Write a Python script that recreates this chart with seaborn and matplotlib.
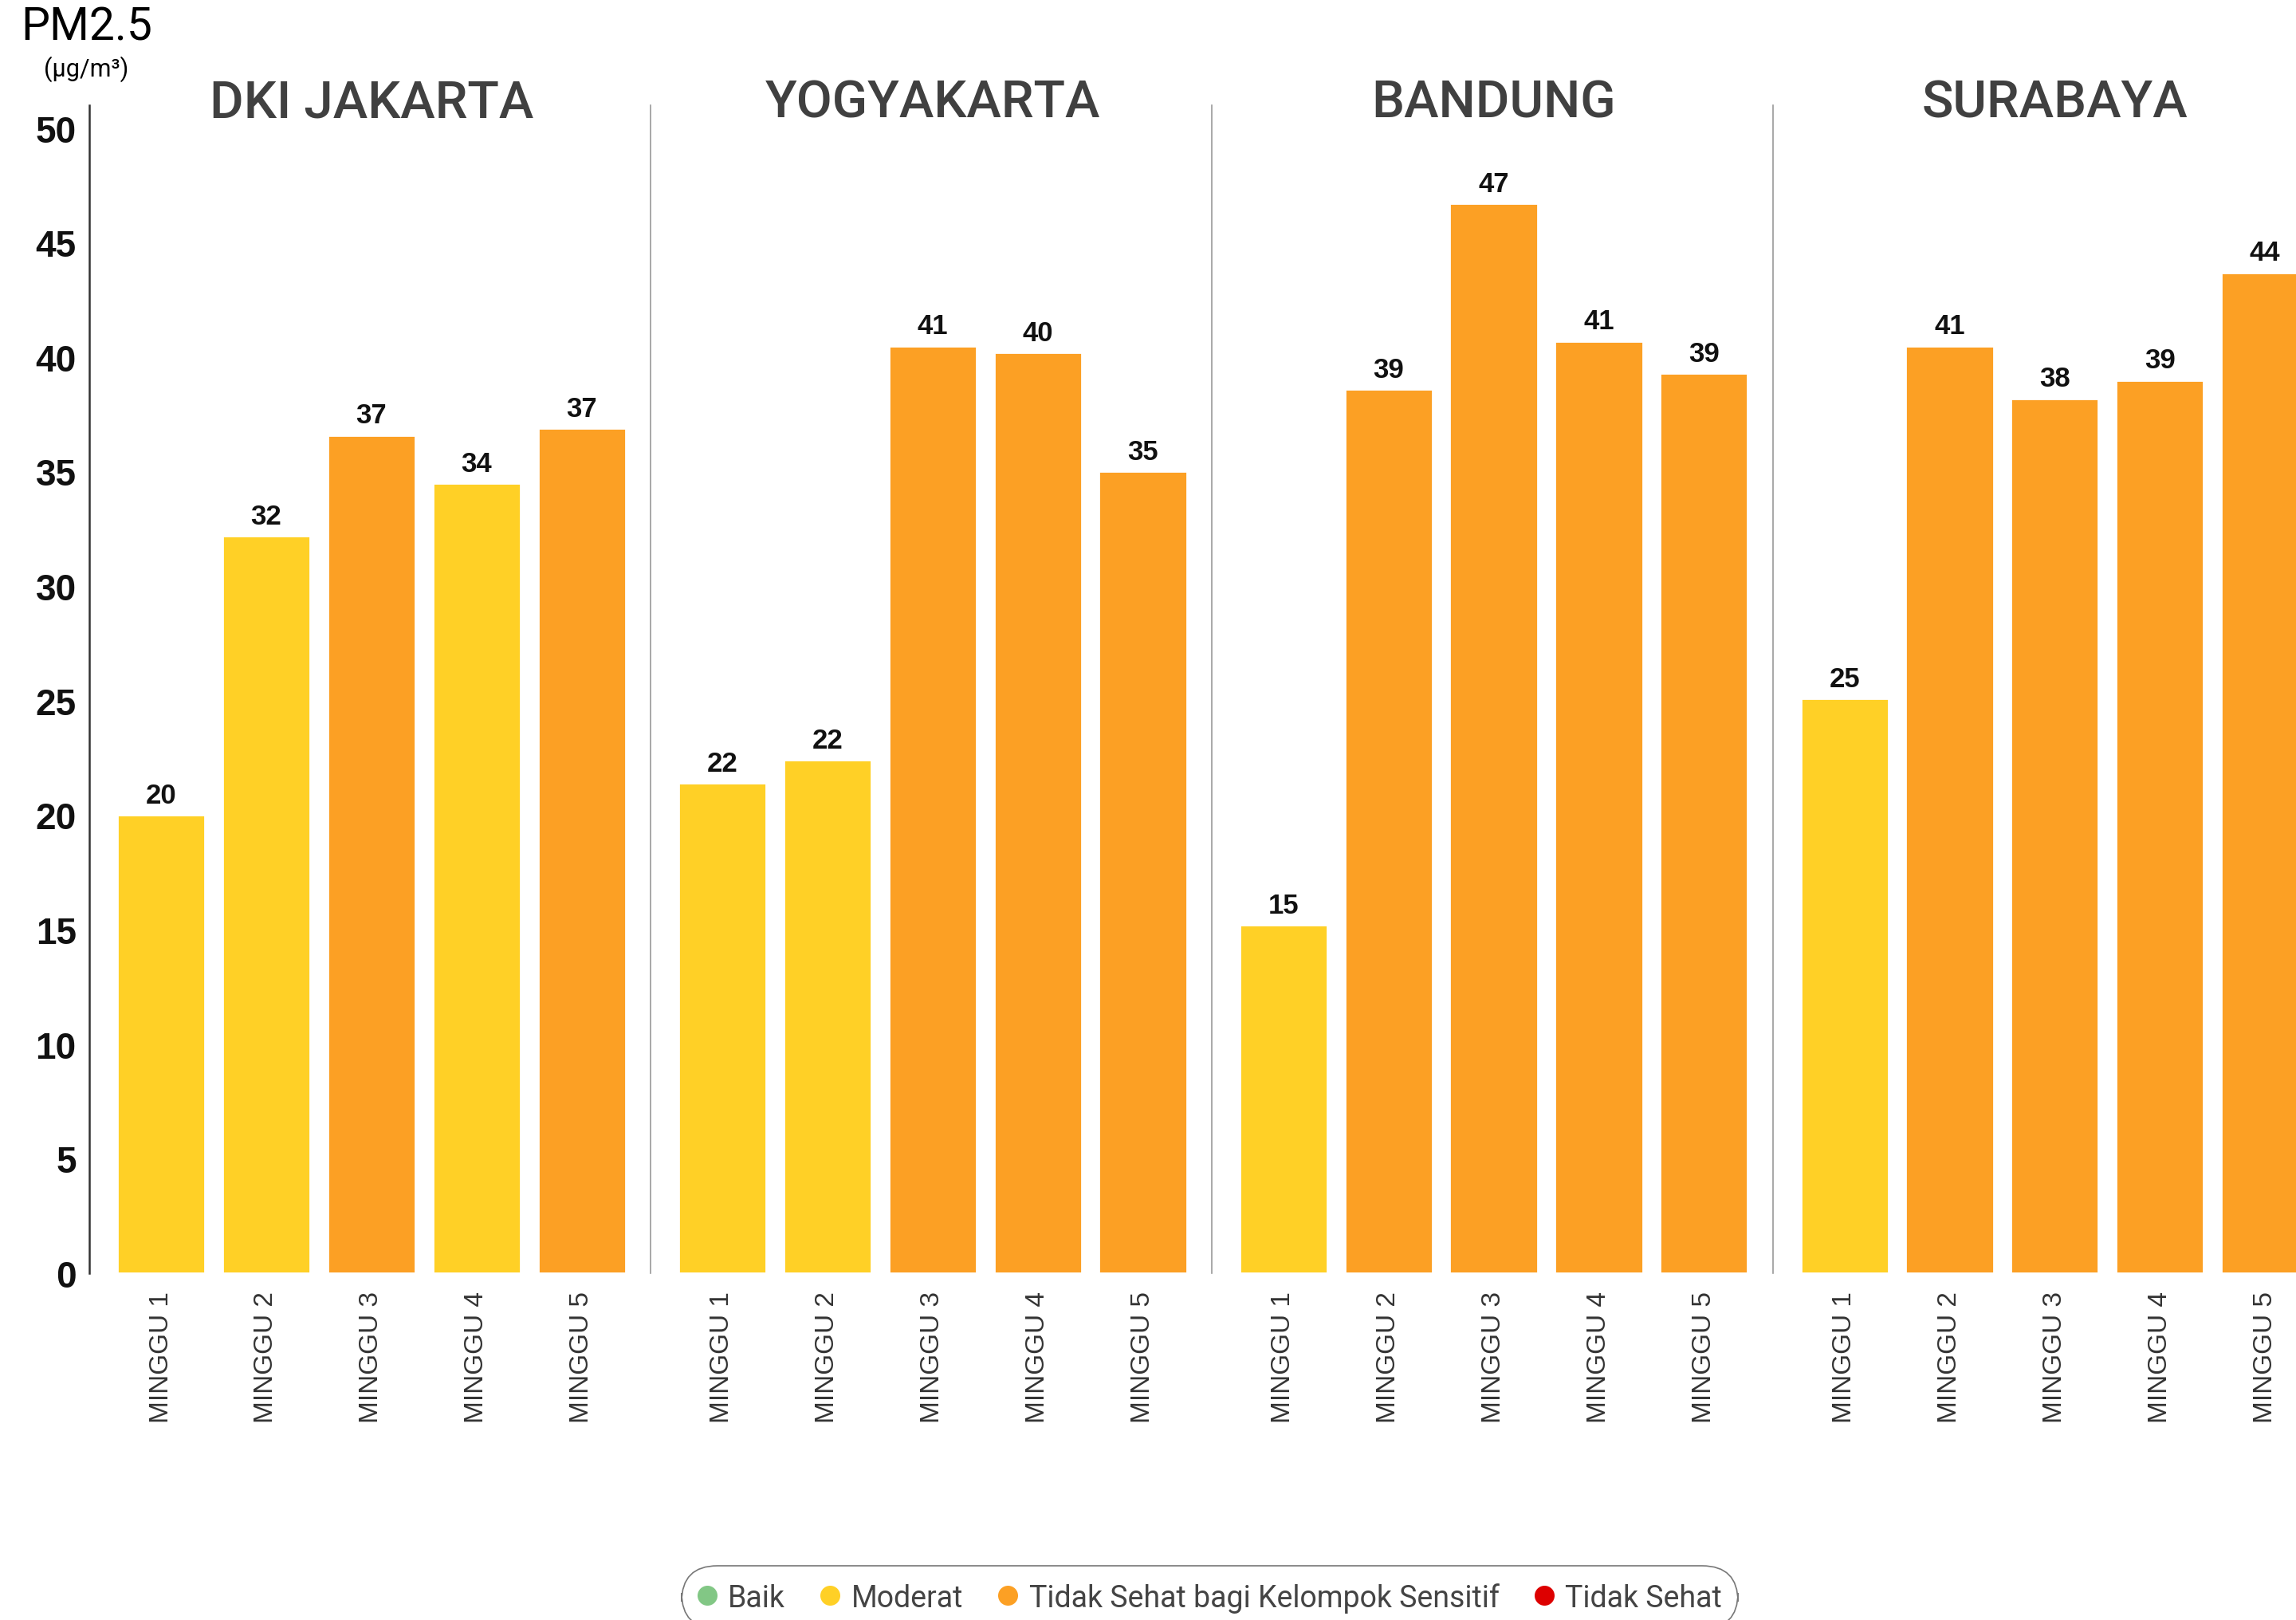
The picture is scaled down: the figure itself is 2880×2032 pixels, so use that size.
"""
PM2.5 mingguan di empat kota - barplot per kota dengan warna kategori kualitas udara.
"""

import matplotlib
matplotlib.use("Agg")
import matplotlib.pyplot as plt
import pandas as pd
import seaborn as sns
from matplotlib.lines import Line2D

# ---------------------------------------------------------------------------
# Data
# ---------------------------------------------------------------------------

KOTA = ["DKI JAKARTA", "YOGYAKARTA", "BANDUNG", "SURABAYA"]
MINGGU = ["MINGGU 1", "MINGGU 2", "MINGGU 3", "MINGGU 4", "MINGGU 5"]

# tinggi batang dan label angka yang tertulis di atasnya
NILAI_JAKARTA = [20.0, 32.2, 36.6, 34.5, 36.9]
NILAI_YOGYAKARTA = [21.4, 22.4, 40.5, 40.2, 35.0]
NILAI_BANDUNG = [15.2, 38.6, 46.7, 40.7, 39.3]
NILAI_SURABAYA = [25.1, 40.5, 38.2, 39.0, 43.7]

LABEL_JAKARTA = [20, 32, 37, 34, 37]
LABEL_YOGYAKARTA = [22, 22, 41, 40, 35]
LABEL_BANDUNG = [15, 39, 47, 41, 39]
LABEL_SURABAYA = [25, 41, 38, 39, 44]

KATEGORI = ["Baik", "Moderat", "Tidak Sehat bagi Kelompok Sensitif", "Tidak Sehat"]
WARNA = ["#82C785", "#FFD026", "#FCA024", "#DD0000"]

M, S = KATEGORI[1], KATEGORI[2]
KAT_JAKARTA = [M, M, S, M, S]
KAT_YOGYAKARTA = [M, M, S, S, S]
KAT_BANDUNG = [M, S, S, S, S]
KAT_SURABAYA = [M, S, S, S, S]

Y_TICKS = [0, 5, 10, 15, 20, 25, 30, 35, 40, 45, 50]

nilai_kota = [NILAI_JAKARTA, NILAI_YOGYAKARTA, NILAI_BANDUNG, NILAI_SURABAYA]
label_kota = [LABEL_JAKARTA, LABEL_YOGYAKARTA, LABEL_BANDUNG, LABEL_SURABAYA]
kat_kota = [KAT_JAKARTA, KAT_YOGYAKARTA, KAT_BANDUNG, KAT_SURABAYA]
palette = dict(zip(KATEGORI, WARNA))

# ---------------------------------------------------------------------------
# Figure
# ---------------------------------------------------------------------------

sns.set_style("white")
plt.rcParams["font.family"] = ["Roboto", "DejaVu Sans"]

fig = plt.figure(figsize=(14.4, 10.165), dpi=200)

LEFT0, STEP, WIDTH = 0.039, 0.2444, 0.2441
BOTTOM, HEIGHT = 0.2141, 0.7205

for i, kota in enumerate(KOTA):
    ax = fig.add_axes([LEFT0 + i * STEP, BOTTOM, WIDTH, HEIGHT])
    df = pd.DataFrame({
        "minggu": MINGGU,
        "nilai": nilai_kota[i],
        "kategori": kat_kota[i],
    })
    sns.barplot(
        data=df, x="minggu", y="nilai", hue="kategori",
        hue_order=KATEGORI, palette=palette, dodge=False,
        saturation=1, width=0.835, legend=False, ax=ax,
    )

    # angka di atas batang
    for j, (v, lab) in enumerate(zip(nilai_kota[i], label_kota[i])):
        ax.annotate(
            str(lab), (j, v), xytext=(0, 3), textcoords="offset points",
            ha="center", va="bottom", fontsize=12.5, fontweight="bold",
            family="Liberation Sans", color="#111111",
        )

    ax.text(2, 50.5, kota, ha="center", va="baseline", fontsize=23.5,
            fontweight="medium", color="#404040", clip_on=False)

    ax.set_xlim(-0.68, 4.65)
    ax.set_ylim(0, 51)
    ax.set_xlabel("")
    ax.set_ylabel("")

    ax.spines["top"].set_visible(False)
    ax.spines["right"].set_visible(False)
    ax.spines["bottom"].set_visible(False)

    ax.tick_params(axis="x", length=0, pad=8, labelrotation=90,
                   labelsize=12, labelcolor="#333333")
    for t in ax.get_xticklabels():
        t.set_family("Liberation Sans")

    if i == 0:
        ax.spines["left"].set_color("#333333")
        ax.spines["left"].set_linewidth(0.9)
        ax.set_yticks(Y_TICKS)
        ax.tick_params(axis="y", length=3, width=0.6, color="#999999",
                       pad=3, labelsize=16.5, labelcolor="#111111")
        for t in ax.get_yticklabels():
            t.set_family("Liberation Sans")
            t.set_fontweight("bold")
    else:
        ax.spines["left"].set_color("#9a9a9a")
        ax.spines["left"].set_linewidth(0.6)
        ax.set_yticks([])

# satuan sumbu y
fig.text(0.0376, 1 - 19 / 1107, "PM2.5", ha="center", va="center",
         fontsize=20.5, color="#000000")
fig.text(0.0376, 1 - 47 / 1107, "(µg/m³)", ha="center", va="center",
         fontsize=11, color="#000000")

# legenda
handles = [
    Line2D([0], [0], marker="o", linestyle="", markersize=8,
           markerfacecolor=c, markeredgecolor=c)
    for c in WARNA
]
leg = fig.legend(
    handles, KATEGORI, loc="upper center", bbox_to_anchor=(0.527, 1 - 1070 / 1107),
    ncol=4, frameon=True, fontsize=13.5, handlelength=0.6, handletextpad=0.4,
    columnspacing=1.2, borderpad=0.55, borderaxespad=0, labelcolor="#444444",
)
frame = leg.get_frame()
frame.set_edgecolor("#555555")
frame.set_linewidth(0.6)
frame.set_boxstyle("round,pad=0,rounding_size=1.2")

fig.savefig("out.png", dpi=200)
